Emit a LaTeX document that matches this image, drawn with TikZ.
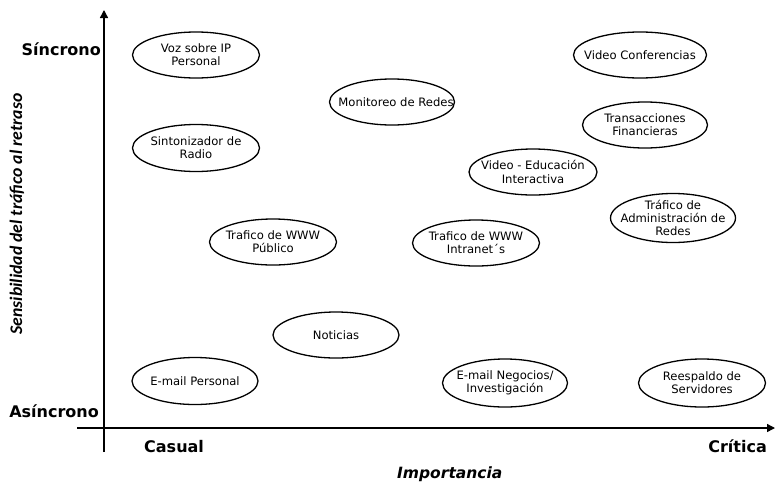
\documentclass[tikz,border=0pt]{standalone}
\usepackage{fontspec}
\setmainfont{DejaVu Sans}
\newfontfamily\ylabfont{Carlito}
\usetikzlibrary{shapes.geometric,arrows.meta}
\begin{document}
\begin{tikzpicture}[x=1pt,y=-1pt,
  bub/.style={draw,ellipse,line width=1.3pt,inner sep=0pt},
  txt/.style={font=\fontsize{11.6}{13.2}\selectfont,align=center,inner sep=0pt},
  axlab/.style={font=\fontsize{16}{19}\selectfont\bfseries,inner sep=0pt},
  axisline/.style={line width=1.4pt,-{Triangle[width=8pt,length=8pt]}}]
\useasboundingbox (0,0) rectangle (775,482);

% axes
\coordinate (ytop) at (104,10);
\coordinate (ybot) at (104,452);
\coordinate (xleft) at (77,428);
\coordinate (xright) at (775,428);
\draw[axisline] (ybot) -- (ytop);
\draw[axisline] (xleft) -- (xright);

% axis labels
\node[axlab,anchor=base east] (sinc) at (101,55) {Síncrono};
\node[axlab,anchor=base east] (asinc) at (99,417) {Asíncrono};
\node[axlab,anchor=base west] (casual) at (144,452) {Casual};
\node[axlab,anchor=base east] (critica) at (767,452) {Crítica};
\node[inner sep=0pt,anchor=base west,font=\fontsize{15.5}{18}\selectfont\bfseries\itshape] (imp) at (397,478) {Importancia};
\node[inner sep=0pt,rotate=90,font=\ylabfont\fontsize{17.7}{20}\selectfont\bfseries\itshape] (ylab) at (17,214) {Sensibilidad del tráfico al retraso};

% bubbles
\node[bub,minimum width=127pt,minimum height=46pt] (voz) at (196,55) {};
\node[txt] (voz-t) at (voz) {Voz sobre IP\\Personal};

\node[bub,minimum width=127pt,minimum height=47pt] (sint) at (196,148) {};
\node[txt] (sint-t) at (sint) {Sintonizador de\\Radio};

\node[bub,minimum width=125pt,minimum height=46pt] (moni) at (392,102) {};
\node[txt] (moni-t) at (396,102) {Monitoreo de Redes};

\node[bub,minimum width=133pt,minimum height=46pt] (vconf) at (640,55) {};
\node[txt] (vconf-t) at (vconf) {Video Conferencias};

\node[bub,minimum width=125pt,minimum height=46pt] (trans) at (645,125) {};
\node[txt] (trans-t) at (trans) {Transacciones\\Financieras};

\node[bub,minimum width=128pt,minimum height=46pt] (veduc) at (533,172) {};
\node[txt] (veduc-t) at (veduc) {Video - Educación\\Interactiva};

\node[bub,minimum width=125pt,minimum height=49pt] (admin) at (673,218) {};
\node[txt] (admin-t) at (admin) {Tráfico de\\Administración de\\Redes};

\node[bub,minimum width=127pt,minimum height=46pt] (pub) at (273,242) {};
\node[txt] (pub-t) at (pub) {Trafico de WWW\\Público};

\node[bub,minimum width=127pt,minimum height=46pt] (intra) at (476,243) {};
\node[txt] (intra-t) at (intra) {Trafico de WWW\\Intranet´s};

\node[bub,minimum width=126pt,minimum height=46pt] (noti) at (336,335) {};
\node[txt] (noti-t) at (noti) {Noticias};

\node[bub,minimum width=126pt,minimum height=47pt] (epers) at (195,381) {};
\node[txt] (epers-t) at (epers) {E-mail Personal};

\node[bub,minimum width=125pt,minimum height=48pt] (eneg) at (505,383) {};
\node[txt] (eneg-t) at (eneg) {E-mail Negocios/\\Investigación};

\node[bub,minimum width=127pt,minimum height=48pt] (resp) at (702,383) {};
\node[txt] (resp-t) at (resp) {Reespaldo de\\Servidores};
\end{tikzpicture}
\end{document}
